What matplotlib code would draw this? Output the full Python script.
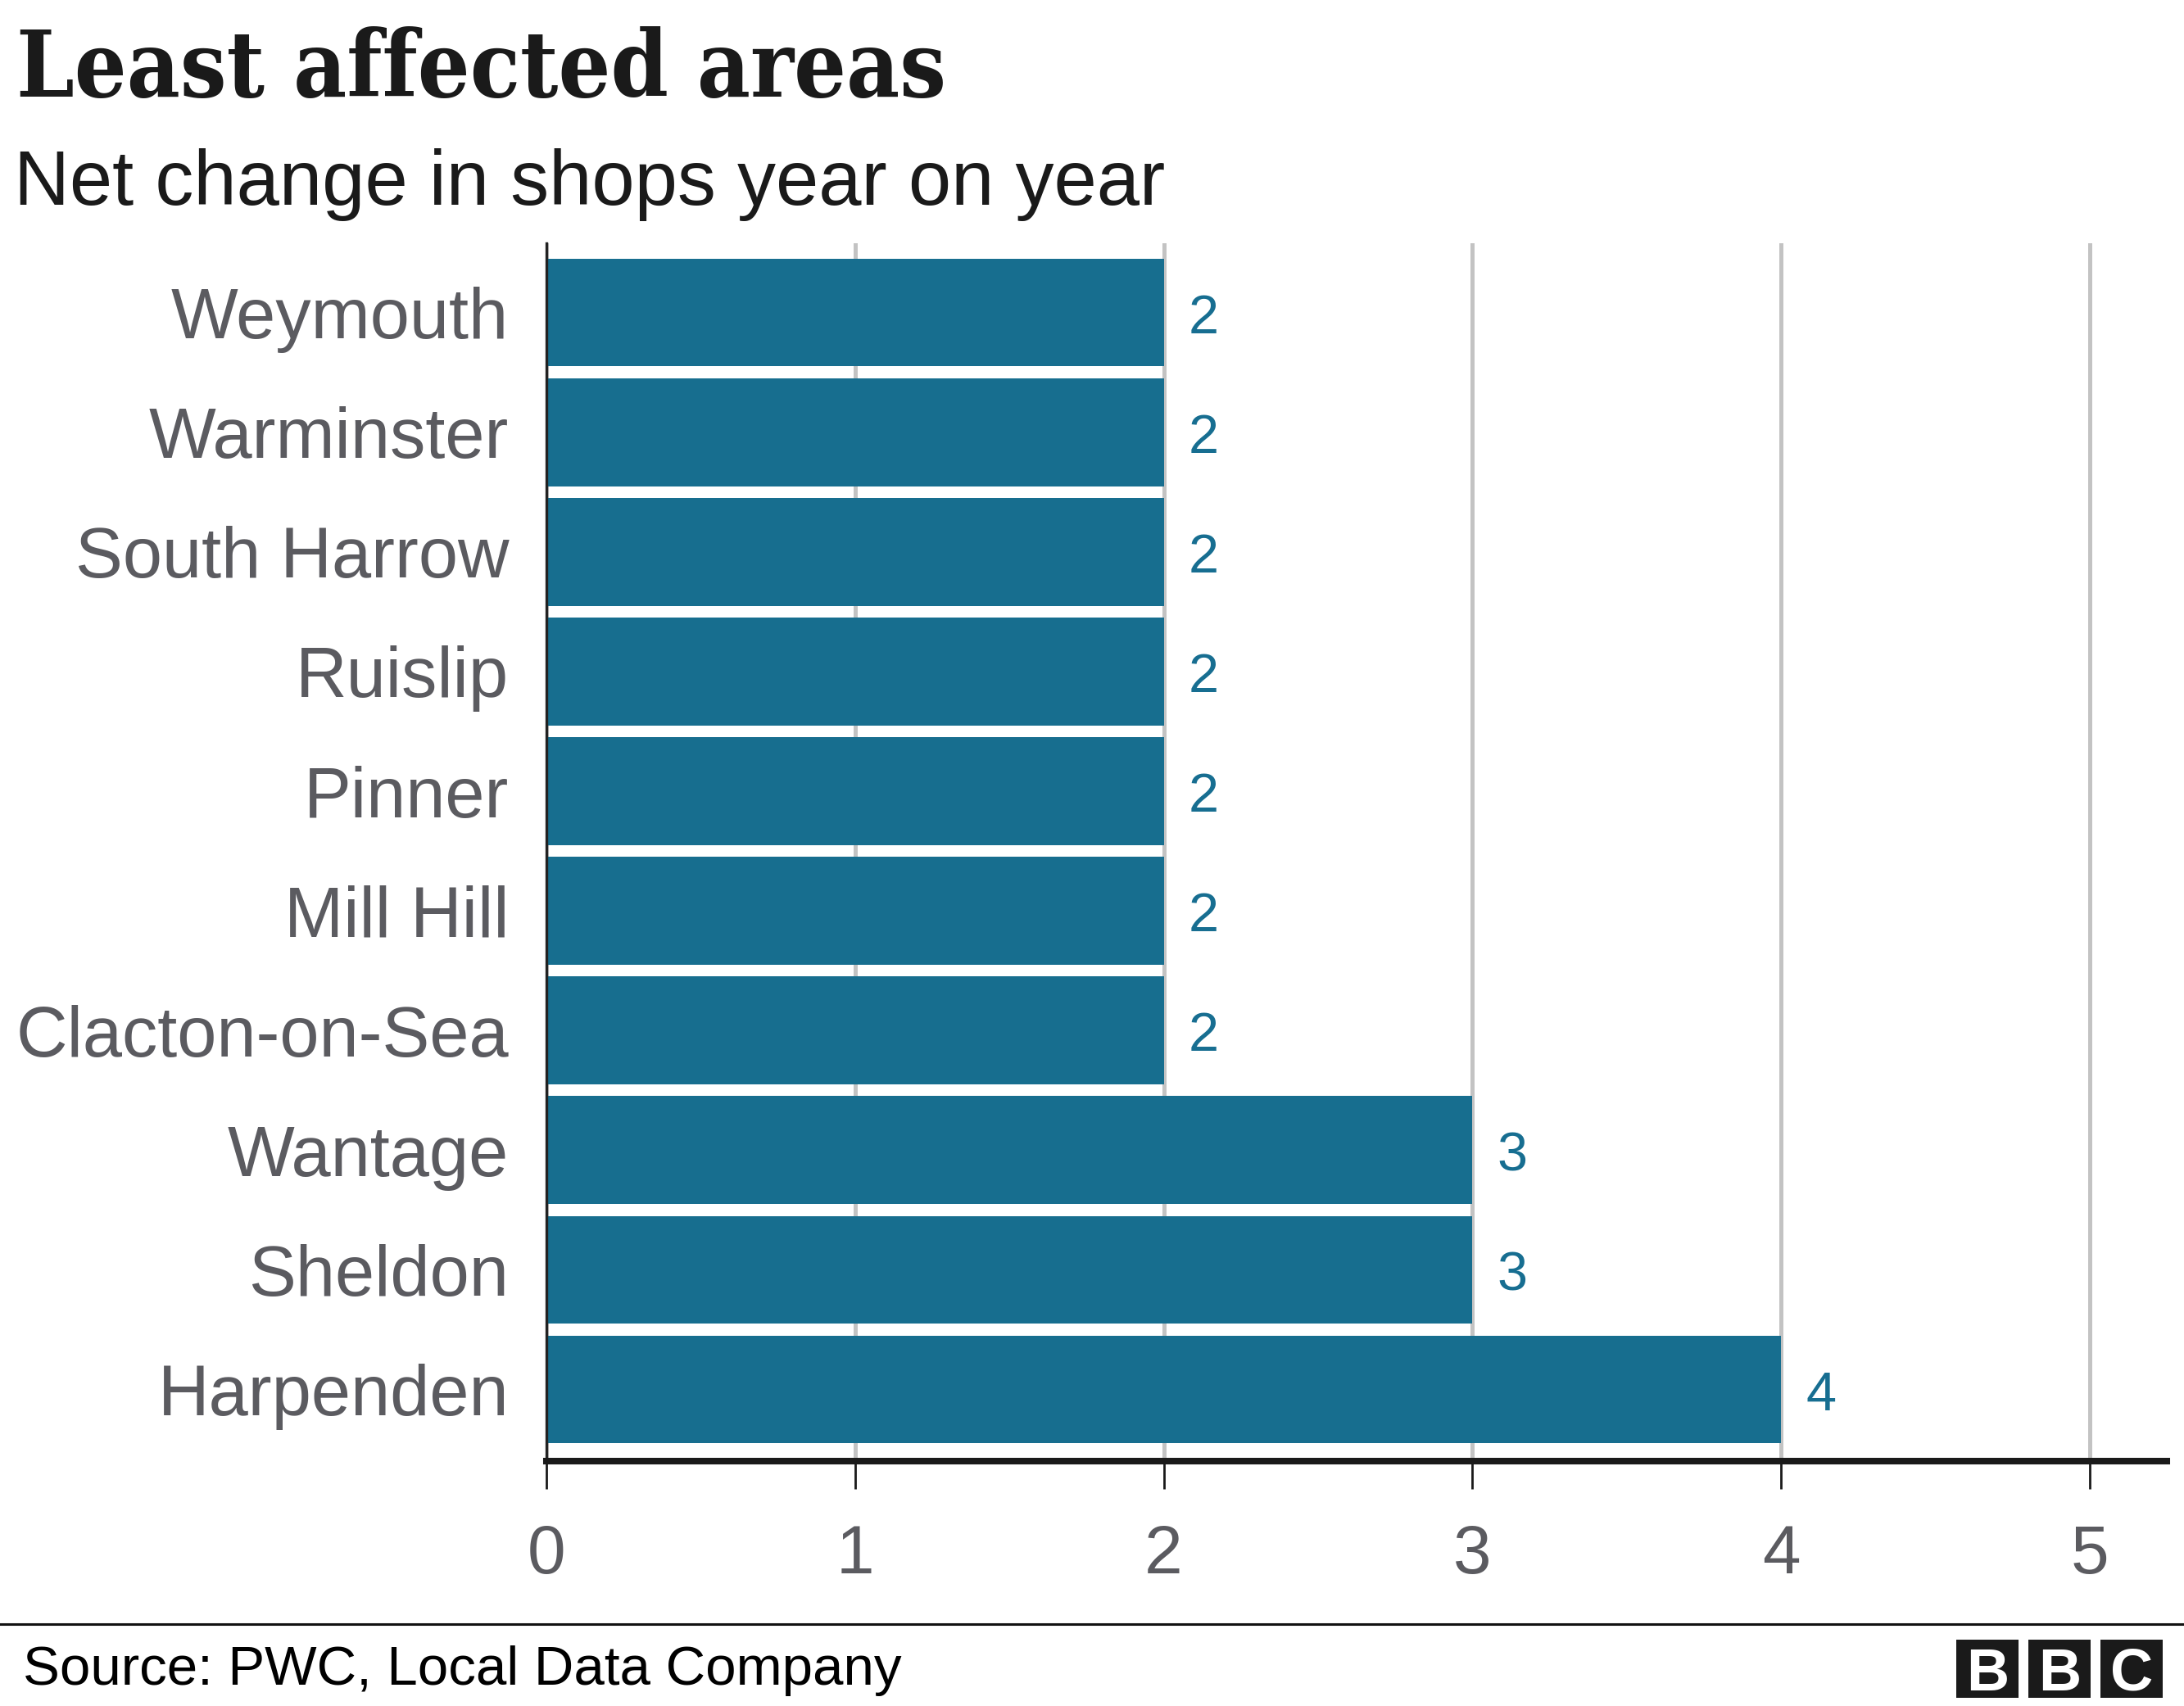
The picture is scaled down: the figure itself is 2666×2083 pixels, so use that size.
import matplotlib
matplotlib.use("Agg")
import matplotlib.pyplot as plt
from matplotlib.patches import Rectangle
from matplotlib.lines import Line2D

categories = ["Weymouth", "Warminster", "South Harrow", "Ruislip", "Pinner",
              "Mill Hill", "Clacton-on-Sea", "Wantage", "Sheldon", "Harpenden"]
values = [2, 2, 2, 2, 2, 2, 2, 3, 3, 4]
xticks = [0, 1, 2, 3, 4, 5]

title = "Least affected areas"
subtitle = "Net change in shops year on year"
source = "Source: PWC, Local Data Company"

BAR = "#176e8f"
LABEL_GREY = "#5b5b60"

W, H, DPI = 2666, 2083, 200
fig = plt.figure(figsize=(W / DPI, H / DPI), dpi=DPI)
fig.patch.set_facecolor("white")

ax = fig.add_axes([667 / W, 1 - 1784 / H, (2645 - 667) / W, (1784 - 297) / H])
pos = list(range(len(categories)))
ax.barh(pos, values, height=0.9, color=BAR, zorder=2)
ax.set_ylim(9.6, -0.58)
ax.set_xlim(0, 5.25)
ax.set_yticks(pos)
ax.set_yticklabels(categories, fontsize=31.2, color=LABEL_GREY, family="Liberation Sans")
ax.set_xticks(xticks)
ax.set_xticklabels([str(t) for t in xticks], fontsize=30.2, color=LABEL_GREY, family="Liberation Sans")
ax.tick_params(axis="y", length=0, pad=16.5)
ax.tick_params(axis="x", length=12.2, width=1.0, color="#1a1a1a", pad=15, direction="out")
ax.set_axisbelow(True)
ax.xaxis.grid(True, color="#c3c3c3", lw=1.8)
for s in ["top", "right"]:
    ax.spines[s].set_visible(False)
ax.spines["bottom"].set_linewidth(2.9)
ax.spines["bottom"].set_color("#1a1a1a")
ax.spines["bottom"].set_zorder(5)
ax.spines["left"].set_linewidth(1.2)
ax.spines["left"].set_color("#222222")
ax.spines["left"].set_zorder(5)

for i, v in enumerate(values):
    ax.annotate(str(v), xy=(v, i), xytext=(11, -3), textcoords="offset points",
                ha="left", va="center", fontsize=24, color="#176e91",
                family="Liberation Sans")

fig.text(0.0075, 1 - 118 / H, title, fontsize=40.3, fontweight="bold",
         family="DejaVu Serif", stretch="condensed", color="#1a1a1a", va="baseline", ha="left")
fig.text(0.0065, 1 - 250 / H, subtitle, fontsize=33.8, family="Liberation Sans",
         color="#1a1a1a", va="baseline", ha="left")
fig.text(0.0105, 1 - 2057 / H, source, fontsize=24.2, family="Liberation Sans",
         color="#000000", va="baseline", ha="left")

fig.add_artist(Line2D([0, 1], [1 - 1983 / H, 1 - 1983 / H], transform=fig.transFigure,
                      color="#111111", lw=1.1))

# BBC logo
for x0, letter in zip([2388, 2476, 2564], ["B", "B", "C"]):
    fig.add_artist(Rectangle((x0 / W, 1 - 2073 / H), 76 / W, 71 / H,
                             transform=fig.transFigure, facecolor="#1a1a1a",
                             edgecolor="none"))
    fig.text((x0 + 38) / W, 1 - 2037.5 / H, letter, fontsize=26, fontweight="bold",
             family="Liberation Sans", color="white", ha="center", va="center_baseline")

fig.savefig("out.png", dpi=DPI, facecolor="white")
